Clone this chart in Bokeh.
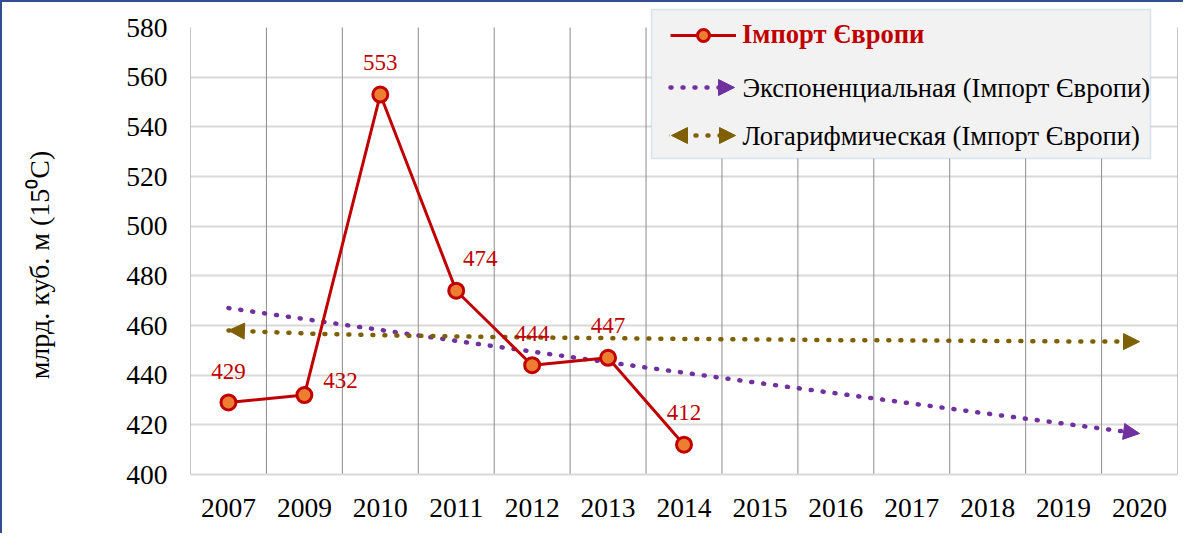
from bokeh.plotting import figure
from bokeh.models import (FactorRange, Range1d, FixedTicker, ColumnDataSource, Arrow, NormalHead,
                          BoxAnnotation, Label, Legend, LegendItem)
from bokeh.core.properties import value
from bokeh.embed import file_html
from bokeh.resources import INLINE

# ---------------- data ----------------
categories = ["2007", "2009", "2010", "2011", "2012", "2013", "2014",
              "2015", "2016", "2017", "2018", "2019", "2020"]
import_years = ["2007", "2009", "2010", "2011", "2012", "2013", "2014"]
import_values = [429, 432, 553, 474, 444, 447, 412]
exp_trend = [467.0, 462.6, 458.2, 453.8, 449.5, 445.2, 441.0,
             436.8, 432.7, 428.6, 424.5, 420.5, 416.5]
log_trend = [458.0, 456.8, 456.1, 455.6, 455.2, 454.9, 454.6,
             454.4, 454.1, 454.0, 453.8, 453.6, 453.5]
y_ticks = [400, 420, 440, 460, 480, 500, 520, 540, 560, 580]
series_name = "Імпорт Європи"
exp_name = "Экспоненциальная (Імпорт Європи)"
log_name = "Логарифмическая (Імпорт Європи)"
y_title = "млрд. куб. м (15\u2070С)"

# label offsets (style, px)
label_dx = [0, 36, 0, 24, 0, 0, 0]
label_dy = [-31, -15, -32, -32, -32, -32, -32]

RED = "#c00000"
ORANGE = "#ed7d31"
PURPLE = "#7030a0"
OLIVE = "#7f6000"
FONT = "Liberation Serif"

# frame extends a little above 580 so the legend box (which pokes above the plot area) is not clipped
y_top = y_ticks[-1] + 21 * (y_ticks[-1] - y_ticks[0]) / 447.0

p = figure(x_range=FactorRange(factors=categories, range_padding=0),
           y_range=Range1d(y_ticks[0], y_top),
           width=1183, height=533, output_backend="svg", toolbar_location=None,
           min_border_left=188, min_border_right=8, min_border_top=4, min_border_bottom=61)
p.outline_line_color = None
p.background_fill_color = "white"
p.border_fill_color = "white"
p.styles = {"border-left": "2px solid #2f4f8f", "border-top": "2px solid #2f4f8f"}

# axes
p.yaxis.ticker = FixedTicker(ticks=y_ticks)
p.yaxis.axis_line_color = None
p.yaxis.major_tick_line_color = None
p.yaxis.minor_tick_line_color = None
p.yaxis.major_tick_out = 0
p.yaxis.major_tick_in = 0
p.yaxis.major_label_text_font = FONT
p.yaxis.major_label_text_font_size = "27.5px"
p.yaxis.major_label_text_color = "black"
p.yaxis.major_label_standoff = 23
p.yaxis.axis_label = y_title + "\u00a0" * 7
p.yaxis.axis_label_text_font = FONT
p.yaxis.axis_label_text_font_size = "28px"
p.yaxis.axis_label_text_font_style = "normal"
p.yaxis.axis_label_text_color = "black"
p.yaxis.axis_label_standoff = 68

p.xaxis.axis_line_color = "#d9d9d9"
p.xaxis.axis_line_width = 2
p.xaxis.major_tick_line_color = None
p.xaxis.minor_tick_line_color = None
p.xaxis.major_tick_out = 0
p.xaxis.major_tick_in = 0
p.xaxis.major_label_text_font = FONT
p.xaxis.major_label_text_font_size = "27.5px"
p.xaxis.major_label_text_color = "black"
p.xaxis.major_label_standoff = 24

# grids
p.ygrid.ticker = FixedTicker(ticks=y_ticks[:-1])
p.ygrid.grid_line_color = "#d9d9d9"
p.ygrid.grid_line_width = 2
p.xgrid.visible = False
bounds = list(range(len(categories) + 1))
p.segment(x0=bounds, y0=[y_ticks[0]] * len(bounds), x1=bounds, y1=[y_ticks[-1]] * len(bounds),
          line_color="#8c8c8c", line_width=1)

# trend lines
p.line(categories, exp_trend, line_color=PURPLE, line_width=4.5, line_dash="1 11", line_cap="round")
p.line(categories, log_trend, line_color=OLIVE, line_width=4.5, line_dash="1 11", line_cap="round")

def head(c):
    return NormalHead(size=16, fill_color=c, line_color=c, line_width=1)

exp_src = ColumnDataSource(dict(x_start=[categories[-2]], y_start=[exp_trend[-2]],
                                x_end=[categories[-1]], y_end=[exp_trend[-1]]))
p.add_layout(Arrow(source=exp_src, x_start="x_start", y_start="y_start", x_end="x_end", y_end="y_end",
                   line_alpha=0, end=head(PURPLE)))
log_src = ColumnDataSource(dict(x_start=[categories[-2], categories[1]],
                                y_start=[log_trend[-2], log_trend[1]],
                                x_end=[categories[-1], categories[0]],
                                y_end=[log_trend[-1], log_trend[0]]))
p.add_layout(Arrow(source=log_src, x_start="x_start", y_start="y_start", x_end="x_end", y_end="y_end",
                   line_alpha=0, end=head(OLIVE)))

# data series
src = ColumnDataSource(dict(x=import_years, y=import_values,
                            lbl=[str(v) for v in import_values], dx=label_dx, dy=label_dy))
line_r = p.line("x", "y", source=src, line_color=RED, line_width=3)
sc_r = p.scatter("x", "y", source=src, size=15, fill_color=ORANGE, line_color=RED, line_width=3)
p.text("x", "y", text="lbl", source=src, x_offset="dx", y_offset="dy",
       text_font=value(FONT), text_font_size="23px", text_color=RED,
       text_align="center", text_baseline="middle")

# legend box (screen units relative to frame)
p.add_layout(BoxAnnotation(left=461, right=960, top=465, bottom=316,
                           left_units="screen", right_units="screen",
                           top_units="screen", bottom_units="screen",
                           fill_color="#f2f2f2", fill_alpha=1,
                           line_color="#8eb4e3", line_width=1.5))

legend = Legend(items=[LegendItem(label=series_name, renderers=[line_r, sc_r])],
                location=(480, 424), padding=0, margin=0, spacing=0,
                glyph_width=66, glyph_height=30, label_height=30, label_standoff=6,
                border_line_alpha=0, background_fill_alpha=0,
                label_text_font=FONT, label_text_font_size="26.6px",
                label_text_font_style="bold", label_text_color=RED)
p.add_layout(legend)

for yy, txt in [(387, exp_name), (339, log_name)]:
    p.add_layout(Label(x=552, y=yy, x_units="screen", y_units="screen", text=txt,
                       text_font=FONT, text_font_size="26.6px", text_color="black",
                       text_baseline="middle", text_align="left"))

p.add_layout(Arrow(x_start=480, y_start=387, x_end=544, y_end=387,
                   start_units="screen", end_units="screen",
                   line_color=PURPLE, line_width=4.5, line_dash="1 11", line_cap="round",
                   end=head(PURPLE)))
p.add_layout(Arrow(x_start=481, y_start=339, x_end=545, y_end=339,
                   start_units="screen", end_units="screen",
                   line_color=OLIVE, line_width=4.5, line_dash="1 11", line_cap="round",
                   start=head(OLIVE), end=head(OLIVE)))

open("out.html", "w").write(file_html(p, INLINE))
